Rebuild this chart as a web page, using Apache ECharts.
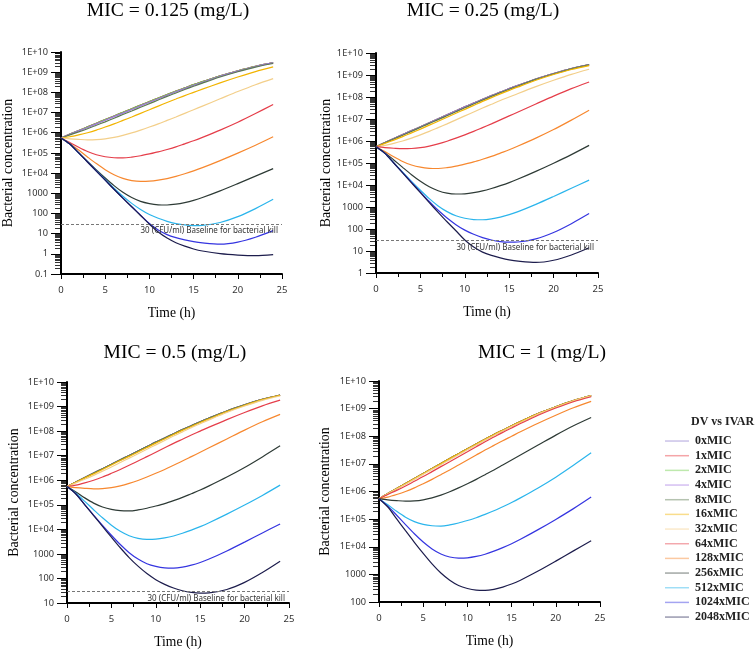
<!DOCTYPE html>
<html>
<head>
<meta charset="utf-8">
<script src="https://cdn.jsdelivr.net/npm/echarts@6/dist/echarts.min.js"></script>
<style>
html,body{margin:0;padding:0;background:#fff;}
#chart{width:755px;height:651px;}
</style>
</head>
<body>
<div id="chart"></div>
<script>
// ---------- DATA ----------
const hours = [0,1,2,3,4,5,6,7,8,9,10,11,12,13,14,15,16,18,20,22,24];

// Bacterial concentration curves (CFU/ml).
// Curves with the same shape recur across panels (shifted by one MIC step per panel).
const growthCtrl = [5.5e5,8.5e5,1.29e6,1.95e6,2.95e6,4.47e6,6.76e6,1.02e7,1.55e7,2.34e7,3.55e7,5.25e7,7.76e7,1.15e8,1.66e8,2.4e8,3.39e8,6.61e8,1.17e9,1.95e9,2.95e9];
const curveX4    = [5.5e5,8.3e5,1.23e6,1.82e6,2.75e6,4.17e6,6.31e6,9.33e6,1.41e7,2.14e7,3.24e7,4.79e7,7.24e7,1.07e8,1.55e8,2.24e8,3.16e8,6.31e8,1.12e9,1.91e9,2.88e9];
const curveX8    = [5.5e5,7.8e5,1.1e6,1.58e6,2.34e6,3.47e6,5.25e6,7.94e6,1.2e7,1.82e7,2.75e7,4.17e7,6.31e7,9.33e7,1.38e8,2.0e8,2.88e8,5.75e8,1.05e9,1.78e9,2.69e9];
const curveX16   = [5.5e5,6.3e5,7.8e5,1.0e6,1.35e6,1.91e6,2.75e6,4.07e6,6.03e6,9.12e6,1.38e7,2.09e7,3.16e7,4.68e7,6.92e7,1.0e8,1.45e8,2.95e8,5.75e8,1.07e9,1.82e9];
const curveX32   = [5.5e5,5.0e5,4.68e5,4.47e5,4.57e5,5.0e5,5.89e5,7.41e5,9.77e5,1.35e6,1.91e6,2.75e6,4.07e6,6.03e6,9.12e6,1.38e7,2.09e7,4.79e7,1.1e8,2.4e8,4.79e8];
const curveX64   = [5.5e5,3.31e5,1.91e5,1.17e5,8.13e4,6.46e4,5.75e4,5.62e4,6.17e4,7.24e4,8.91e4,1.12e5,1.48e5,2.0e5,2.82e5,3.98e5,5.89e5,1.35e6,3.31e6,8.91e6,2.51e7];
const curveX128  = [5.5e5,2.95e5,1.38e5,6.31e4,2.95e4,1.48e4,8320,5500,4270,3890,3980,4470,5370,6920,9330,1.29e4,1.86e4,4.17e4,9.77e4,2.4e5,6.31e5];
const curveX256  = [5.5e5,2.75e5,1.02e5,3.8e4,1.45e4,5750,2400,1120,617,398,309,269,263,288,347,447,617,1320,3020,7080,1.66e4];
const curveX512  = [5.5e5,2.75e5,1.0e5,3.63e4,1.32e4,4790,1780,708,316,158,89.1,57.5,40.7,31.6,26.9,25.1,25.7,35.5,69.2,174,501];
const curveX1024 = [5.5e5,2.75e5,1.0e5,3.55e4,1.26e4,4470,1580,575,214,83.2,31.6,15.1,8.91,6.31,4.9,3.98,3.47,3.02,3.8,6.61,14.1];
const curveX2048 = [5.5e5,2.75e5,1.0e5,3.55e4,1.26e4,4470,1580,575,214,79.4,29.5,12.0,6.03,3.55,2.4,1.74,1.38,1.02,0.87,0.81,0.91];

const seriesNames  = ['0xMIC','1xMIC','2xMIC','4xMIC','8xMIC','16xMIC','32xMIC','64xMIC','128xMIC','256xMIC','512xMIC','1024xMIC','2048xMIC'];
const seriesColors = ['#8a78cc','#e8383d','#6fcf4a','#a070e0','#5a7a50','#f2b400','#f3cf8a','#e53e4a','#f7882f','#2e3b36','#2bb5ec','#3535e0','#1d1d4d'];

const panelTitles = ['MIC = 0.125 (mg/L)','MIC = 0.25 (mg/L)','MIC = 0.5 (mg/L)','MIC = 1 (mg/L)'];
const panel1Curves = [growthCtrl,growthCtrl,growthCtrl,curveX4,curveX8,curveX16,curveX32,curveX64,curveX128,curveX256,curveX512,curveX1024,curveX2048];
const panel2Curves = [growthCtrl,growthCtrl,growthCtrl,growthCtrl,curveX4,curveX8,curveX16,curveX32,curveX64,curveX128,curveX256,curveX512,curveX1024];
const panel3Curves = [growthCtrl,growthCtrl,growthCtrl,growthCtrl,growthCtrl,curveX4,curveX8,curveX16,curveX32,curveX64,curveX128,curveX256,curveX512];
const panel4Curves = [growthCtrl,growthCtrl,growthCtrl,growthCtrl,growthCtrl,growthCtrl,curveX4,curveX8,curveX16,curveX32,curveX64,curveX128,curveX256];
const yMinValues = [0.1, 1, 10, 100];
const yMaxValue = 1e10;
const baselineValue = 30;
const baselineText = '30 (CFU/ml) Baseline for bacterial kill';
const legendTitle = 'DV vs IVAR';
const xAxisTitle = 'Time (h)';
const yAxisTitle = 'Bacterial concentration';

// ---------- LAYOUT ----------
const panelCurves = [panel1Curves, panel2Curves, panel3Curves, panel4Curves];
const grids = [
  {left:61, top:52, width:221, height:222},
  {left:376, top:53, width:222, height:220},
  {left:67, top:382, width:222, height:221},
  {left:379, top:381, width:221, height:221}
];
const titlePos = [[168,11],[483,11],[175,353],[542,353]];
const yNameGaps = [46, 43, 46, 47];
const showBaseline = [true, true, true, false];

const serif = "'Liberation Serif','Times New Roman',serif";
const sans = "'Noto Sans','Open Sans',sans-serif";

function yFmt(v){
  const e = Math.round(Math.log10(v));
  if (e >= 4) return '1E+' + (e < 10 ? '0' : '') + e;
  if (e >= 0) return String(Math.round(v));
  return String(+v.toFixed(1));
}

const xAxes = [], yAxes = [], series = [], graphics = [];
grids.forEach((g, p) => {
  xAxes.push({
    type:'value', gridIndex:p, min:0, max:25, interval:5,
    axisLine:{show:true, onZero:false, lineStyle:{color:'#000', width:2}},
    axisTick:{show:true, length:5, lineStyle:{color:'#000', width:1}},
    minorTick:{show:true, splitNumber:2, length:4, lineStyle:{color:'#000', width:1}},
    splitLine:{show:false},
    axisLabel:{margin:11, fontSize:9.5, color:'#333', fontFamily:sans},
    name:xAxisTitle, nameLocation:'middle', nameGap:32,
    nameTextStyle:{fontFamily:serif, fontSize:13.6, color:'#000'}
  });
  const decades = Math.round(Math.log10(yMaxValue) - Math.log10(yMinValues[p]));
  yAxes.push({
    type:'log', logBase:10, gridIndex:p, min:yMinValues[p], max:yMaxValue, splitNumber:decades, interval:1,
    axisLine:{show:true, onZero:false, lineStyle:{color:'#000', width:2}},
    axisTick:{show:true, length:10, lineStyle:{color:'#000', width:1}},
    minorTick:{show:true, splitNumber:10, length:6, lineStyle:{color:'#000', width:0.8}},
    splitLine:{show:false}, minorSplitLine:{show:false},
    axisLabel:{margin:13, fontSize:9.2, color:'#333', fontFamily:sans, formatter:yFmt, hideOverlap:false},
    name:yAxisTitle, nameLocation:'middle', nameGap:yNameGaps[p],
    nameTextStyle:{fontFamily:serif, fontSize:13.8, color:'#000'}
  });
  panelCurves[p].forEach((arr, i) => {
    const s = {
      type:'line', name:seriesNames[i], xAxisIndex:p, yAxisIndex:p,
      data: hours.map((h, k) => [h, arr[k]]),
      symbol:'none', smooth:0.3,
      lineStyle:{width:1.2, color:seriesColors[i]},
      itemStyle:{color:seriesColors[i]},
      emphasis:{disabled:true}, z:2
    };
    if (i === 0 && showBaseline[p]) {
      s.markLine = {
        silent:true, symbol:'none', animation:false,
        lineStyle:{type:[3,2], color:'#777', width:1},
        label:{show:true, position:'insideEndBottom', formatter:baselineText,
               fontSize:8, color:'#333', fontFamily:sans, distance:[4,3]},
        data:[{yAxis:baselineValue}]
      };
    }
    series.push(s);
  });
  graphics.push({
    type:'text',
    style:{text:panelTitles[p], x:titlePos[p][0], y:titlePos[p][1], align:'center', verticalAlign:'middle',
           font:"19.6px " + serif, fill:'#000'}
  });
});
graphics.push({
  type:'text',
  style:{text:legendTitle, x:691, y:421.5, align:'left', verticalAlign:'middle',
         font:"bold 12px " + serif, fill:'#222'}
});

const option = {
  animation:false,
  backgroundColor:'#fff',
  grid: grids,
  xAxis: xAxes,
  yAxis: yAxes,
  series: series,
  graphic: graphics,
  legend: {
    orient:'vertical', left:660, top:428.7,
    data: seriesNames,
    icon:'rect', itemWidth:24, itemHeight:1.5, itemGap:0,
    itemStyle:{opacity:0.45},
    selectedMode:false,
    textStyle:{fontFamily:serif, fontSize:12, fontWeight:'bold', color:'#222', lineHeight:14.67, padding:[0,0,0,1]}
  }
};
const chart = echarts.init(document.getElementById('chart'), null, {renderer:'canvas'});
chart.setOption(option);
</script>
</body>
</html>
